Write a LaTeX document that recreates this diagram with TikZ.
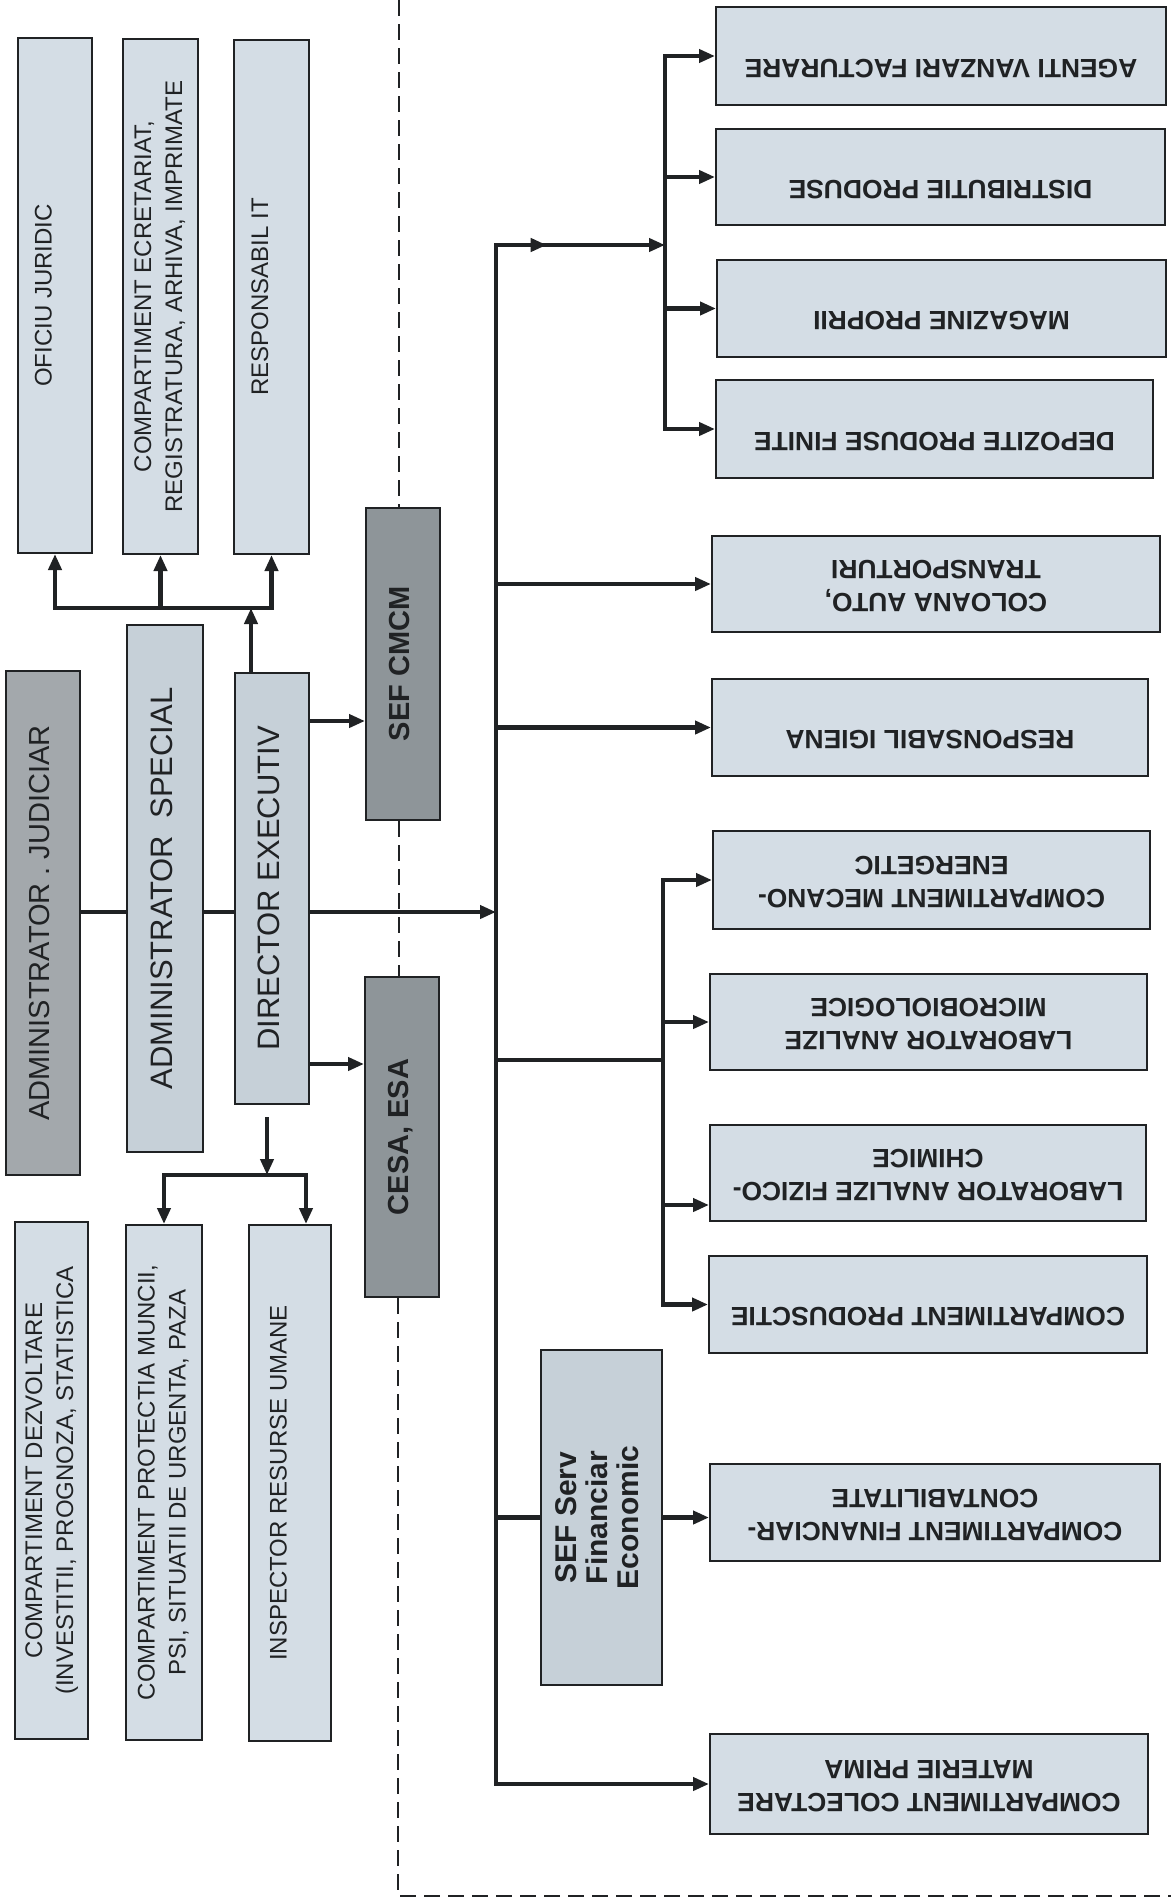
\documentclass[tikz,border=0pt]{standalone}
\usepackage{graphicx}
\usepackage{fontspec}
\setmainfont{Liberation Sans}
\usetikzlibrary{positioning, decorations.markings, arrows.meta}

\definecolor{boxlight}{RGB}{212,221,229}
\definecolor{boxmid}{RGB}{198,208,216}
\definecolor{boxgrey}{RGB}{163,168,172}
\definecolor{boxdark}{RGB}{142,149,153}
\definecolor{inkc}{RGB}{32,34,36}

\newcommand{\vtxt}[1]{\rotatebox{90}{\begin{tabular}{@{}c@{}}#1\end{tabular}}}
\newcommand{\utxt}[1]{\rotatebox{180}{\begin{tabular}{@{}c@{}}#1\end{tabular}}}

\tikzset{
    box/.style={draw=inkc, line width=1pt, inner sep=0pt, text=inkc},
    lbox/.style={box, fill=boxlight},
    sz/.style 2 args={minimum width=#1*0.5pt, minimum height=#2*0.5pt},
    smalltxt/.style={font=\fontsize{12}{15.5}\selectfont},
    bigtxt/.style={font=\fontsize{14.5}{17}\selectfont},
    boldtxt/.style={font=\bfseries\fontsize{14.5}{17}\selectfont},
    rtxt/.style={font=\bfseries\fontsize{13.2}{16.5}\selectfont},
    link/.style={draw=inkc, line width=2.2pt, line cap=rect},
    arr/.style={link, -{Triangle[length=8pt, width=6.5pt]}},
    midarrow/.style={decoration={markings, mark=at position 0.3 with {\arrow{Triangle[length=8pt, width=6.5pt]}}}, postaction={decorate}},
    dashline/.style={draw=inkc, line width=0.9pt, dash pattern=on 8pt off 4pt}
}

\begin{document}
\begin{tikzpicture}[x=0.5pt, y=-0.5pt]
    \fill[white] (0,0) rectangle (1171,1901);
    \useasboundingbox (0,0) rectangle (1171,1901);

    % left column
    \node[lbox, sz={74}{515}, smalltxt] (ofj) at (55,295.5) {\vtxt{OFICIU JURIDIC\\[-6pt]\strut}};
    \node[lbox, sz={75}{515}, smalltxt] (cse) at (160.5,296.5) {\vtxt{COMPARTIMENT ECRETARIAT,\\REGISTRATURA, ARHIVA, IMPRIMATE}};
    \node[lbox, sz={75}{514}, smalltxt] (rit) at (271.5,297) {\vtxt{RESPONSABIL IT\\[-6pt]\strut}};

    \node[box, fill=boxgrey, sz={74}{504}, bigtxt] (adj) at (43,923) {\vtxt{ADMINISTRATOR . JUDICIAR}};
    \node[box, fill=boxmid, sz={76}{527}, font=\fontsize{15.5}{18}\selectfont] (ads) at (165,888.5) {\vtxt{ADMINISTRATOR~ SPECIAL}};
    \node[box, fill=boxmid, sz={74}{431}, font=\fontsize{15.5}{18}\selectfont] (dir) at (272,888.5) {\vtxt{DIRECTOR EXECUTIV}};
    \node[box, fill=boxdark, sz={74}{312}, boldtxt] (sefc) at (403,664) {\vtxt{SEF CMCM}};
    \node[box, fill=boxdark, sz={74}{320}, boldtxt] (cesa) at (402,1137) {\vtxt{CESA, ESA}};

    \node[lbox, sz={73}{517}, smalltxt] (cdz) at (51.5,1480.5) {\vtxt{COMPARTIMENT DEZVOLTARE\\(INVESTITII, PROGNOZA, STATISTICA}};
    \node[lbox, sz={76}{515}, smalltxt] (cpm) at (164,1482.5) {\vtxt{COMPARTIMENT PROTECTIA MUNCII,\\PSI, SITUATII DE URGENTA, PAZA}};
    \node[lbox, sz={82}{516}, smalltxt] (irs) at (290,1483) {\vtxt{INSPECTOR RESURSE UMANE\\[-6pt]\strut}};

    % right column
    \node[lbox, sz={450}{98}, rtxt] (agv) at (941,56) {\utxt{AGENTI VANZARI FACTURARE\\[-6.5pt]\strut}};
    \node[lbox, sz={449}{96}, rtxt] (dsp) at (940.5,177) {\utxt{DISTRIBUTIE PRODUSE\\[-6.5pt]\strut}};
    \node[lbox, sz={449}{97}, rtxt] (mgp) at (941.5,308.5) {\utxt{MAGAZINE PROPRII\\[-6.5pt]\strut}};
    \node[lbox, sz={437}{98}, rtxt] (dpf) at (934.5,429) {\utxt{DEPOZITE PRODUSE FINITE\\[-6.5pt]\strut}};
    \node[lbox, sz={448}{96}, rtxt] (col) at (936,584) {\utxt{COLOANA AUTO,\\TRANSPORTURI}};
    \node[lbox, sz={436}{97}, rtxt] (rig) at (930,727.5) {\utxt{RESPONSABIL IGIENA\\[-6.5pt]\strut}};
    \node[lbox, sz={437}{98}, rtxt] (cme) at (931.5,880) {\utxt{COMPARTIMENT MECANO-\\ENERGETIC}};
    \node[lbox, sz={437}{96}, rtxt] (lmb) at (928.5,1022) {\utxt{LABORATOR ANALIZE\\MICROBIOLOGICE}};
    \node[lbox, sz={436}{96}, rtxt] (lfc) at (928,1173) {\utxt{LABORATOR ANALIZE FIZICO-\\CHIMICE}};
    \node[lbox, sz={438}{97}, rtxt] (cpr) at (928,1304.5) {\utxt{COMPARTIMENT PRODUSCTIE\\[-6.5pt]\strut}};
    \node[lbox, sz={450}{97}, rtxt] (cfc) at (935,1512.5) {\utxt{COMPARTIMENT FINANCIAR-\\CONTABILITATE}};
    \node[lbox, sz={438}{100}, rtxt] (ccm) at (929,1784) {\utxt{COMPARTIMENT COLECTARE\\MATERIE PRIMA}};
    \node[box, fill=boxmid, sz={121}{335}, font=\bfseries\fontsize{15}{15}\selectfont] (sfe) at (601.5,1517.5) {\vtxt{SEF Serv\\Financiar\\Economic}};

    % dashed border
    \coordinate (dtop) at (399,0);
    \coordinate (dcorner) at (398,1896);
    \coordinate (dend) at (1171,1896);
    \draw[dashline] (dtop) -- (dtop |- sefc.north);
    \draw[dashline] (dtop |- sefc.south) -- (dtop |- cesa.north);
    \draw[dashline] (dcorner |- cesa.south) -- (dcorner) -- (dend);

    % staff above the director
    \coordinate (tb) at (251,608);
    \draw[link] (ofj.south |- tb) -- (rit.south |- tb);
    \foreach \n in {ofj,cse,rit}
        \draw[arr] (\n.south |- tb) -- (\n.south);
    \draw[arr] (tb |- dir.north) -- (tb);

    % main line
    \coordinate (hr) at (0,912);
    \coordinate (bus) at (496,245);
    \draw[link] (adj.east |- hr) -- (ads.west |- hr);
    \draw[link] (ads.east |- hr) -- (dir.west |- hr);
    \draw[arr] (dir.east |- hr) -- (bus |- hr);
    \coordinate (r1) at (0,721);
    \coordinate (r2) at (0,1064);
    \draw[arr] (dir.east |- r1) -- (sefc.west |- r1);
    \draw[arr] (dir.east |- r2) -- (cesa.west |- r2);

    % staff below the director
    \coordinate (dd) at (267,1119);
    \coordinate (db) at (267,1175);
    \coordinate (db2) at (306,1175);
    \draw[arr] (dd) -- (db);
    \draw[link] (cpm.north |- db) -- (db2);
    \draw[arr] (cpm.north |- db) -- (cpm.north);
    \draw[arr] (db2) -- (db2 |- irs.north);

    % bus to the right column
    \draw[link] (bus) -- (bus |- ccm.west);
    \coordinate (sb) at (665,0);
    \draw[arr, midarrow] (bus) -- (sb |- bus);
    \draw[link] (sb |- agv.west) -- (sb |- dpf.west);
    \foreach \n in {agv,dsp,mgp,dpf}
        \draw[arr] (sb |- \n.west) -- (\n.west);
    \draw[arr] (bus |- col.west) -- (col.west);
    \draw[arr] (bus |- rig.west) -- (rig.west);

    \coordinate (tb2) at (663,1060);
    \coordinate (lfcin) at ([yshift=-16pt]lfc.west);
    \draw[link] (bus |- tb2) -- (tb2);
    \draw[link] (tb2 |- cme.west) -- (tb2 |- cpr.west);
    \foreach \n in {cme,lmb,cpr}
        \draw[arr] (tb2 |- \n.west) -- (\n.west);
    \draw[arr] (lfcin -| tb2) -- (lfcin);

    \draw[link] (bus |- sfe.west) -- (sfe.west);
    \draw[arr] (sfe.east) -- (cfc.west |- sfe.east);
    \draw[arr] (bus |- ccm.west) -- (ccm.west);
\end{tikzpicture}
\end{document}
